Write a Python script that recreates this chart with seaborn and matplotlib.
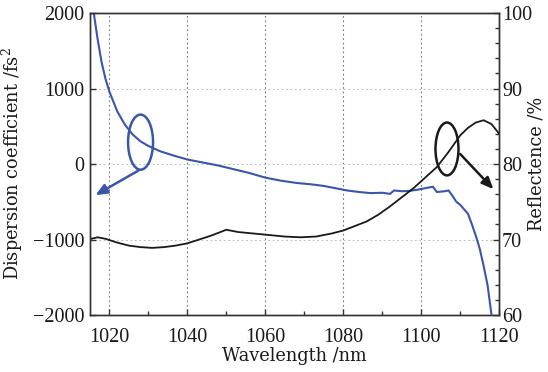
import numpy as np
import pandas as pd
import seaborn as sns
import matplotlib.pyplot as plt
from matplotlib.patches import Ellipse
from matplotlib.ticker import MultipleLocator

# Dispersion coefficient (left axis)
disp_wl = [1016.0, 1017, 1018, 1019, 1020, 1022, 1024, 1026, 1028, 1030, 1033, 1036,
           1040, 1044, 1048, 1052, 1056, 1060, 1064, 1068, 1072, 1075, 1078, 1081,
           1084, 1087, 1090, 1092, 1093, 1095, 1097, 1099, 1101, 1103, 1104, 1106,
           1107, 1108, 1109, 1110, 1112, 1113, 1114, 1115, 1116, 1117, 1118]
disp_val = [2000, 1650, 1350, 1130, 960, 700, 520, 390, 300, 240, 170, 120,
            60, 20, -20, -70, -120, -180, -220, -250, -270, -290, -320, -350,
            -370, -385, -380, -395, -350, -360, -355, -340, -320, -300, -370, -360,
            -350, -420, -500, -540, -660, -800, -950, -1120, -1350, -1600, -1990]

# Reflectance (right axis)
refl_wl = [1015.3, 1017, 1019, 1022, 1025, 1028, 1031, 1034, 1037, 1040, 1043, 1046,
           1050, 1053, 1057, 1061, 1065, 1069, 1073, 1077, 1080, 1083, 1086, 1089,
           1092, 1095, 1098, 1101, 1104, 1107, 1110, 1112, 1114, 1116, 1118, 1120]
refl_val = [70.1, 70.3, 70.1, 69.6, 69.2, 69.0, 68.9, 69.0, 69.2, 69.5, 70.0, 70.5,
            71.3, 71.0, 70.8, 70.6, 70.4, 70.3, 70.4, 70.8, 71.2, 71.8, 72.4, 73.3,
            74.4, 75.6, 76.8, 78.2, 79.6, 81.6, 83.8, 84.8, 85.5, 85.8, 85.3, 84.0]

disp = pd.DataFrame({"wl": disp_wl, "val": disp_val})
refl = pd.DataFrame({"wl": refl_wl, "val": refl_val})

sns.set_style("ticks")
plt.rcParams["font.family"] = ["DejaVu Serif"]
plt.rcParams["mathtext.fontset"] = "dejavuserif"

blue = "#3b56a8"
black = "#1a1a1a"
txt = "#1a1a1a"

fig = plt.figure(figsize=(5.48, 3.72), dpi=100)
ax = fig.add_axes([0.164, 0.153, 0.747, 0.812])
ax2 = ax.twinx()

sns.lineplot(data=disp, x="wl", y="val", ax=ax, color=blue, lw=1.5, sort=False)
sns.lineplot(data=refl, x="wl", y="val", ax=ax2, color=black, lw=1.3, sort=False)

ax.set_xlim(1015, 1120)
ax.set_ylim(-2000, 2000)
ax2.set_ylim(60, 100)
ax.set_xticks([1020, 1040, 1060, 1080, 1100, 1120])
ax.xaxis.set_minor_locator(MultipleLocator(10))
ax.set_yticks([-2000, -1000, 0, 1000, 2000])
ax2.set_yticks([60, 70, 80, 90, 100])
ax2.yaxis.set_minor_locator(MultipleLocator(2))

ax.xaxis.grid(True, which="major", linestyle=(0, (1.5, 2.5)), color="#777777", lw=0.8)
ax.yaxis.grid(True, which="major", linestyle=(0, (1.5, 2.5)), color="#bbbbbb", lw=0.8)

tick_font = {"family": "Liberation Serif", "size": 14.5}
ax.tick_params(axis="both", which="both", direction="in", width=1, colors="#333333",
               labelcolor=txt)
ax.tick_params(which="major", length=4)
ax.tick_params(which="minor", length=3)
ax.tick_params(axis="x", which="major", pad=9)
ax.tick_params(axis="y", which="both", right=False, pad=4)
ax2.tick_params(axis="y", which="both", direction="in", width=1, pad=2,
                colors="#333333", labelcolor=txt)
ax2.tick_params(which="major", length=4)
ax2.tick_params(which="minor", length=3)

ax.set_xticklabels(["1020", "1040", "1060", "1080", "1100", "1120"], fontdict=tick_font)
ax.set_yticklabels(["\u22122000", "\u22121000", "0", "1000", "2000"], fontdict=tick_font)
ax2.set_yticklabels(["60", "70", "80", "90", "100"], fontdict=tick_font)

fs = 12.8
ax.set_xlabel("Wavelength /nm", fontsize=fs, color=txt, labelpad=0)
ax.set_ylabel("Dispersion coefficient /fs$^2$", fontsize=fs, color=txt)
ax2.set_ylabel("Reflectence /%", fontsize=fs, color=txt)
ax.yaxis.set_label_coords(-0.159, 0.5)
ax2.yaxis.set_label_coords(1.069, 0.5)

for a in (ax, ax2):
    for s in a.spines.values():
        s.set_linewidth(1.0)
        s.set_color("#333333")

# annotations
ax.add_patch(Ellipse((1028.0, 290), 6.4, 730, fill=False, ec=blue, lw=1.8))
ax.annotate("", xy=(1015.8, -430), xytext=(1028.0, -70),
            arrowprops=dict(arrowstyle="-|>,head_length=0.7,head_width=0.3",
                            color=blue, lw=1.8))
ax2.add_patch(Ellipse((1106.6, 82.0), 5.9, 7.0, fill=False, ec=black, lw=1.8))
ax2.annotate("", xy=(1119.0, 76.4), xytext=(1109.5, 81.6),
             arrowprops=dict(arrowstyle="-|>,head_length=0.7,head_width=0.3",
                             color=black, lw=1.8))

fig.savefig("out.png", dpi=100)
